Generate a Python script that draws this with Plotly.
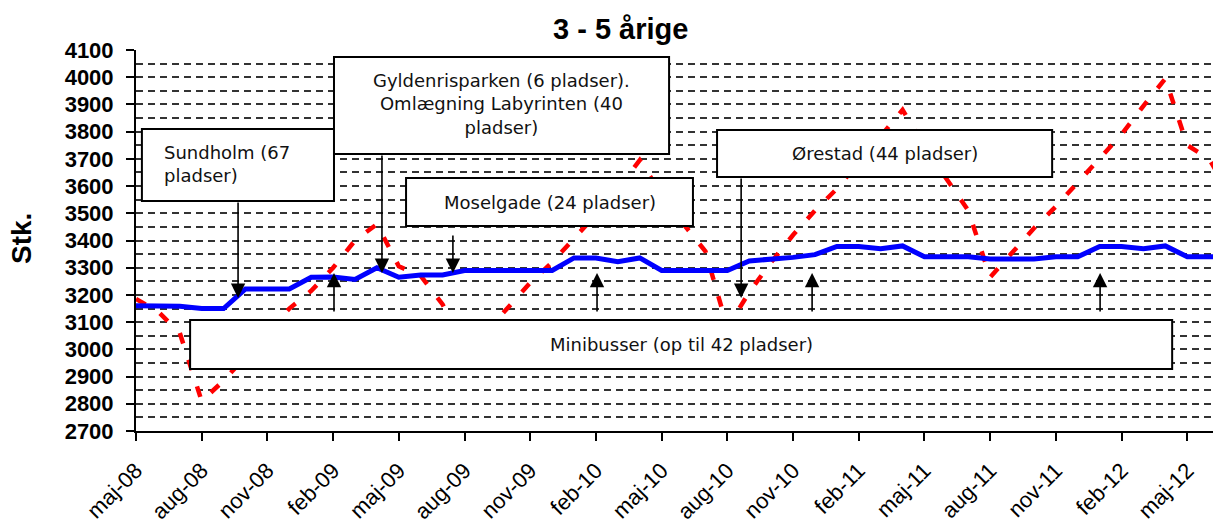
import plotly.graph_objects as go

# Months (maj-08 .. jul-12)
months = [
    "maj-08", "jun-08", "jul-08", "aug-08", "sep-08", "okt-08", "nov-08", "dec-08",
    "jan-09", "feb-09", "mar-09", "apr-09", "maj-09", "jun-09", "jul-09", "aug-09",
    "sep-09", "okt-09", "nov-09", "dec-09", "jan-10", "feb-10", "mar-10", "apr-10",
    "maj-10", "jun-10", "jul-10", "aug-10", "sep-10", "okt-10", "nov-10", "dec-10",
    "jan-11", "feb-11", "mar-11", "apr-11", "maj-11", "jun-11", "jul-11", "aug-11",
    "sep-11", "okt-11", "nov-11", "dec-11", "jan-12", "feb-12", "mar-12", "apr-12",
    "maj-12", "jun-12", "jul-12",
]

# Red dashed series (children)
children = [
    3185, 3140, 3060, 2810, 2885, 2975, 3065, 3150,
    3215, 3300, 3400, 3460, 3305, 3270, 3165, 3000,
    3065, 3155, 3245, 3320, 3405, 3495, 3590, 3695,
    3570, 3460, 3360, 3080, 3210, 3320, 3420, 3510,
    3590, 3685, 3780, 3880, 3745, 3625, 3510, 3265,
    3355, 3445, 3525, 3615, 3700, 3790, 3895, 3995,
    3750, 3700, 3560,
]

# Blue series (places)
places = [
    3160, 3160, 3158, 3150, 3150, 3222, 3222, 3222,
    3265, 3266, 3257, 3300, 3265, 3273, 3273, 3290,
    3290, 3290, 3290, 3290, 3336, 3336, 3322, 3336,
    3290, 3290, 3290, 3290, 3325, 3330, 3338, 3348,
    3378, 3378, 3370, 3380, 3340, 3340, 3340, 3332,
    3332, 3332, 3340, 3340, 3378, 3378, 3370, 3380,
    3340, 3340, 3340,
]

tick_labels = ["maj-08", "aug-08", "nov-08", "feb-09", "maj-09", "aug-09", "nov-09",
               "feb-10", "maj-10", "aug-10", "nov-10", "feb-11", "maj-11", "aug-11",
               "nov-11", "feb-12", "maj-12"]

title_text = "3 - 5 årige"
y_title = "Stk."

# Annotation boxes: (text, x0, x1, y0, y1, text_x, text_y, align)
boxes = [
    ("Sundholm (67<br>pladser)", 0.27, 9.04, 3545, 3810, 1.19, 3680, "left"),
    ("Gyldenrisparken (6 pladser).<br>Omlægning Labyrinten (40<br>pladser)", 9.04, 24.34, 3718, 4074, 16.7, 3900, "center"),
    ("Moselgade (24 pladser)", 12.33, 25.43, 3453, 3630, 18.9, 3541, "center"),
    ("Ørestad (44 pladser)", 26.53, 41.83, 3633, 3806, 34.18, 3720, "center"),
    ("Minibusser (op til 42 pladser)", 2.47, 47.31, 2928, 3108, 24.9, 3018, "center"),
]

# Arrows: (x, tip_y, tail_y)
arrows = [
    (4.66, 3189, 3545),
    (11.23, 3281, 3718),
    (14.47, 3281, 3424),
    (27.63, 3189, 3633),
    (9.04, 3281, 3134),
    (21.05, 3281, 3134),
    (30.87, 3281, 3134),
    (44.02, 3281, 3134),
]

fig = go.Figure()
fig.add_trace(go.Scatter(x=months, y=children, mode="lines",
                         line=dict(color="#ff0000", width=4.5, dash="11px,17px"),
                         showlegend=False))
fig.add_trace(go.Scatter(x=months, y=places, mode="lines",
                         line=dict(color="#0000ff", width=5),
                         showlegend=False))

shapes = []
annotations = []
for text, x0, x1, y0, y1, tx, ty, al in boxes:
    shapes.append(dict(type="rect", xref="x", yref="y", x0=x0, x1=x1, y0=y0, y1=y1,
                       fillcolor="white", line=dict(color="black", width=2), layer="above"))
    annotations.append(dict(x=tx, y=ty, xref="x", yref="y", text=text, showarrow=False,
                            align=al, xanchor="left" if al == "left" else "center",
                            yanchor="middle",
                            font=dict(family="DejaVu Sans", size=18, color="#111111")))
for ax_, tip, tail in arrows:
    annotations.append(dict(x=ax_, y=tip, ax=ax_, ay=tail, xref="x", yref="y",
                            axref="x", ayref="y", text="", showarrow=True,
                            arrowhead=2, arrowsize=1.8, arrowwidth=1.6,
                            arrowcolor="black", standoff=0, startstandoff=0))

# plot area spans 1085 x 381 px
annotations.append(dict(x=(620 - 136) / 1085, y=(431 - 29) / 381, xref="paper", yref="paper",
                        text="<b>" + title_text + "</b>", showarrow=False,
                        xanchor="center", yanchor="middle",
                        font=dict(family="Liberation Sans, Arial", size=29, color="black")))
annotations.append(dict(x=(21 - 136) / 1085, y=(431 - 239) / 381, xref="paper", yref="paper",
                        text="<b>" + y_title + "</b>", showarrow=False, textangle=-90,
                        xanchor="center", yanchor="middle",
                        font=dict(family="Liberation Sans, Arial", size=28, color="black")))

# The page body adds an 8px offset; margins compensate so the plot area
# lands at x 136..1221, y 50..431 in the window.
fig.update_layout(
    width=1213, height=513,
    margin=dict(l=128, r=0, t=42, b=90, autoexpand=False),
    paper_bgcolor="white", plot_bgcolor="white",
    shapes=shapes, annotations=annotations,
    xaxis=dict(type="category", range=[0, 49.54], tickmode="array",
               tickvals=tick_labels, ticktext=tick_labels, tickangle=-45,
               showline=True, linecolor="black", linewidth=2,
               ticks="outside", ticklen=8, tickwidth=1.5, tickcolor="black",
               ticklabelstandoff=8,
               showgrid=False, zeroline=False, automargin=False,
               tickfont=dict(family="Liberation Sans, Arial", size=22, color="black")),
    yaxis=dict(range=[2700, 4100], dtick=100, tick0=2700,
               showline=True, linecolor="black", linewidth=2,
               ticks="outside", ticklen=8, tickwidth=1.5, tickcolor="black",
               ticklabelstandoff=8,
               showgrid=True, gridcolor="#333333", gridwidth=1.5, griddash="7px,5px",
               minor=dict(dtick=50, showgrid=True, gridcolor="#333333", gridwidth=1.5,
                          griddash="7px,5px"),
               zeroline=False, automargin=False,
               tickfont=dict(family="Liberation Sans, Arial", size=22, color="black", weight="bold")),
)

fig.write_html("out.html")
